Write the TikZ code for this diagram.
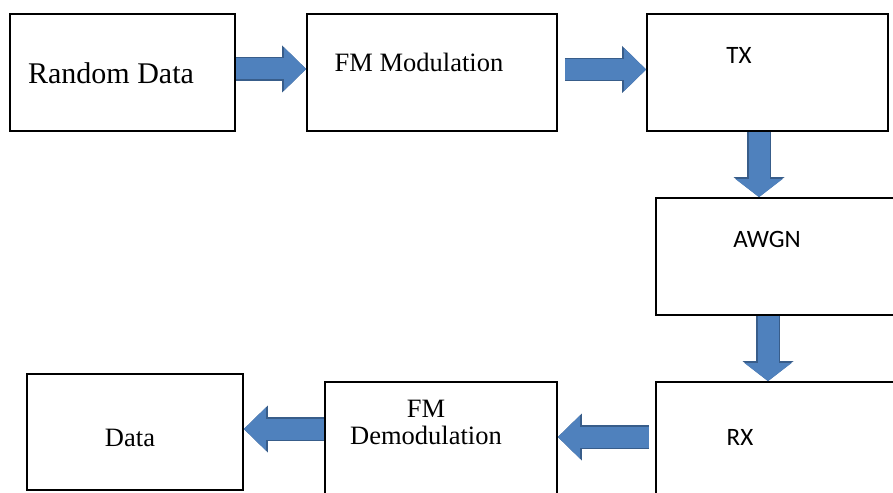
\documentclass[tikz,border=0pt]{standalone}
\usepackage{fontspec}
\setmainfont{Liberation Serif}
\newfontfamily\sansfont{Carlito}
\usetikzlibrary{arrows.meta}

\definecolor{arrfill}{HTML}{4F81BD}
\definecolor{arredge}{HTML}{385D8A}

\begin{document}
\begin{tikzpicture}[x=1pt, y=-1pt,
  box/.style={draw, line width=1.8pt, inner sep=0pt},
  lbl/.style={inner sep=0pt, font=\fontsize{26.5}{28}\selectfont},
  slbl/.style={inner sep=0pt, font=\sansfont\fontsize{25}{27}\selectfont},
  arr/.style={draw=arrfill, line width=21pt,
    -{Triangle[width=43pt,length=22pt,line width'=0pt]},
    preaction={draw=arredge, line width=23.5pt,
      -{Triangle[width=47pt,length=24pt,line width'=0pt,fill=arredge]}}},
  darr/.style={draw=arrfill, line width=21pt,
    -{Triangle[width=47pt,length=18pt,line width'=0pt]},
    preaction={draw=arredge, line width=23.5pt,
      -{Triangle[width=51pt,length=20pt,line width'=0pt,fill=arredge]}}}]
  \useasboundingbox (0,0) rectangle (893,492);
  \clip (0,0) rectangle (893,492);

  % blocks
  \node[box, minimum width=225pt, minimum height=117pt] (rand)    at (122.5,72.5) {};
  \node[box, minimum width=250pt, minimum height=117pt] (fmmod)   at (432,72.5)   {};
  \node[box, minimum width=241pt, minimum height=117pt] (tx)      at (767.5,72.5) {};
  \node[box, minimum width=264pt, minimum height=117pt] (awgn)    at (788,256.5)  {};
  \node[box, minimum width=264pt, minimum height=118pt] (rx)      at (788,441)    {};
  \node[box, minimum width=232pt, minimum height=118pt] (fmdemod) at (441,441)    {};
  \node[box, minimum width=216pt, minimum height=116pt] (data)    at (135,432)    {};

  % texts
  \node[lbl, font=\fontsize{30}{32}\selectfont] (rand-t) at (111,73) {Random Data};
  \node[lbl]  (fmmod-t)   at (419,62.5) {FM Modulation};
  \node[slbl] (tx-t)      at (739,55.5) {TX};
  \node[slbl] (awgn-t)    at (767,239.5) {AWGN};
  \node[slbl] (rx-t)      at (740,437) {RX};
  \node[lbl, align=center] (fmdemod-t) at (426,422) {FM\\[-1pt]Demodulation};
  \node[lbl]  (data-t)    at (130,438) {Data};

  % block arrows
  \draw[arr]  ([yshift=3.5pt]rand.east) -- ([yshift=3.5pt]fmmod.west);
  \draw[arr]  ([xshift=7pt,yshift=3pt]fmmod.east) -- ([yshift=3pt]tx.west);
  \draw[darr] ([xshift=-8.5pt]tx.south) -- ([xshift=-8.5pt]tx.south |- awgn.north);
  \draw[darr] ([xshift=-20pt]awgn.south) -- ([xshift=-20pt]rx.north);
  \draw[arr]  ([xshift=-6pt,yshift=4pt]rx.west) -- ([yshift=4pt]fmdemod.east);
  \draw[arr]  ([yshift=12pt]fmdemod.west) -- ([yshift=12pt]fmdemod.west -| data.east);
\end{tikzpicture}
\end{document}
